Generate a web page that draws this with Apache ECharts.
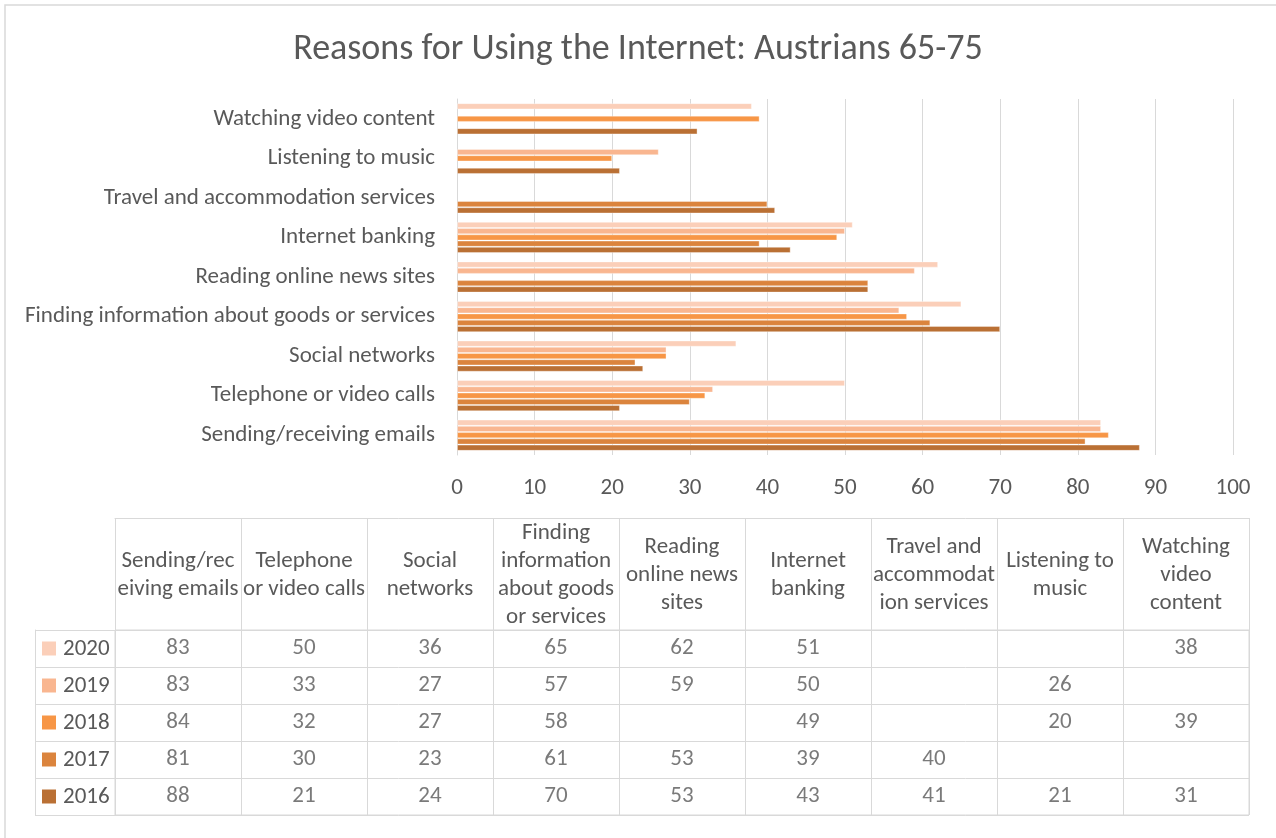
<!DOCTYPE html>
<html>
<head>
<meta charset="utf-8">
<script src="https://cdn.jsdelivr.net/npm/echarts@6/dist/echarts.min.js"></script>
<style>
html,body{margin:0;padding:0;background:#fff;}
#c{width:1276px;height:838px;}
</style>
</head>
<body>
<div id="c"></div>
<script>
// ---- data ----
const categories = [
  'Sending/receiving emails',
  'Telephone or video calls',
  'Social networks',
  'Finding information about goods or services',
  'Reading online news sites',
  'Internet banking',
  'Travel and accommodation services',
  'Listening to music',
  'Watching video content'
];
const tableHeaders = [
  'Sending/rec\neiving emails',
  'Telephone\nor video calls',
  'Social\nnetworks',
  'Finding\ninformation\nabout goods\nor services',
  'Reading\nonline news\nsites',
  'Internet\nbanking',
  'Travel and\naccommodat\nion services',
  'Listening to\nmusic',
  'Watching\nvideo\ncontent'
];
const years = ['2020', '2019', '2018', '2017', '2016'];
const v2020 = [83, 50, 36, 65, 62, 51, null, null, 38];
const v2019 = [83, 33, 27, 57, 59, 50, null, 26, null];
const v2018 = [84, 32, 27, 58, null, 49, null, 20, 39];
const v2017 = [81, 30, 23, 61, 53, 39, 40, null, null];
const v2016 = [88, 21, 24, 70, 53, 43, 41, 21, 31];
const xTicks = [0, 10, 20, 30, 40, 50, 60, 70, 80, 90, 100];
const title = 'Reasons for Using the Internet: Austrians 65-75';

const seriesValues = [v2020, v2019, v2018, v2017, v2016];
const colors = ['#FBCFB9', '#F9B690', '#F79646', '#DB843D', '#BA7034'];
const FONT = 'Carlito, Lato, sans-serif';
const TXT = '#595959';
const GRID = '#D9D9D9';
const FS = 23;

const chart = echarts.init(document.getElementById('c'));

const barSeries = years.map((y, i) => ({
  name: y,
  type: 'bar',
  xAxisIndex: 0,
  yAxisIndex: 0,
  data: seriesValues[i],
  barGap: '0%',
  barCategoryGap: '21%',
  itemStyle: { color: colors[i], borderColor: 'rgba(255,255,255,0.35)', borderWidth: 1 },
  emphasis: { disabled: true }
}));

const tableData = [];
seriesValues.forEach((arr, r) => {
  arr.forEach((v, c) => { if (v !== null) tableData.push([c, r, v]); });
});

const rich = { t: { fontSize: FS, color: TXT, fontFamily: FONT, padding: [2, 0, 0, 7] } };
colors.forEach((c, i) => { rich['k' + i] = { width: 14, height: 14, backgroundColor: c }; });

chart.setOption({
  animation: false,
  backgroundColor: '#fff',
  textStyle: { fontFamily: FONT },
  title: {
    text: title,
    left: 'center',
    top: 27,
    textStyle: { fontFamily: FONT, fontSize: 36, fontWeight: 'normal', color: TXT }
  },
  graphic: [{
    type: 'rect',
    shape: { x: 5, y: 5, width: 1300, height: 900 },
    style: { fill: 'none', stroke: '#D9D9D9', lineWidth: 1.5 },
    silent: true
  }],
  grid: [
    { left: 457, right: 43, top: 99, height: 356 },
    { left: 115, top: 630, width: 1134, height: 185, show: true, borderColor: GRID, borderWidth: 1 }
  ],
  xAxis: [
    {
      type: 'value', gridIndex: 0, min: xTicks[0], max: xTicks[xTicks.length - 1], interval: xTicks[1] - xTicks[0],
      axisLine: { show: false }, axisTick: { show: false },
      axisLabel: { fontSize: FS, color: TXT, fontFamily: FONT, margin: 22 },
      splitLine: { lineStyle: { color: GRID, width: 1 } }
    },
    {
      type: 'category', gridIndex: 1, position: 'top', data: tableHeaders,
      axisLine: { lineStyle: { color: GRID } },
      axisTick: { show: true, length: 112, lineStyle: { color: GRID } },
      axisLabel: { interval: 0, margin: 55, verticalAlign: 'middle', lineHeight: 28, fontSize: FS, color: TXT, fontFamily: FONT },
      splitLine: { show: true, lineStyle: { color: GRID } }
    },
    {
      type: 'category', gridIndex: 1, position: 'top', offset: 112, data: tableHeaders,
      axisLine: { lineStyle: { color: GRID } },
      axisTick: { show: false }, axisLabel: { show: false }
    }
  ],
  yAxis: [
    {
      type: 'category', gridIndex: 0, data: categories,
      axisLine: { lineStyle: { color: GRID } }, axisTick: { show: false },
      axisLabel: { fontSize: FS, color: TXT, fontFamily: FONT, margin: 22, padding: [3, 0, 0, 0] }
    },
    {
      type: 'category', gridIndex: 1, inverse: true, data: years,
      axisLine: { lineStyle: { color: GRID } },
      axisTick: { show: true, length: 80, lineStyle: { color: GRID } },
      axisLabel: {
        align: 'left', margin: 73, rich: rich,
        formatter: (val, idx) => '{k' + idx + '|}{t|' + val + '}'
      },
      splitLine: { show: true, lineStyle: { color: GRID } }
    },
    {
      type: 'category', gridIndex: 1, inverse: true, position: 'left', offset: 80, data: years,
      axisLine: { lineStyle: { color: GRID } }, axisTick: { show: false }, axisLabel: { show: false }
    }
  ],
  series: barSeries.concat([{
    type: 'scatter',
    xAxisIndex: 1,
    yAxisIndex: 1,
    data: tableData,
    symbolSize: 1,
    itemStyle: { color: 'rgba(0,0,0,0)' },
    label: {
      show: true, position: 'inside',
      formatter: p => String(p.value[2]),
      fontSize: FS, color: TXT, fontFamily: FONT, padding: [2, 0, 0, 0]
    },
    emphasis: { disabled: true },
    silent: true
  }])
});
</script>
</body>
</html>
